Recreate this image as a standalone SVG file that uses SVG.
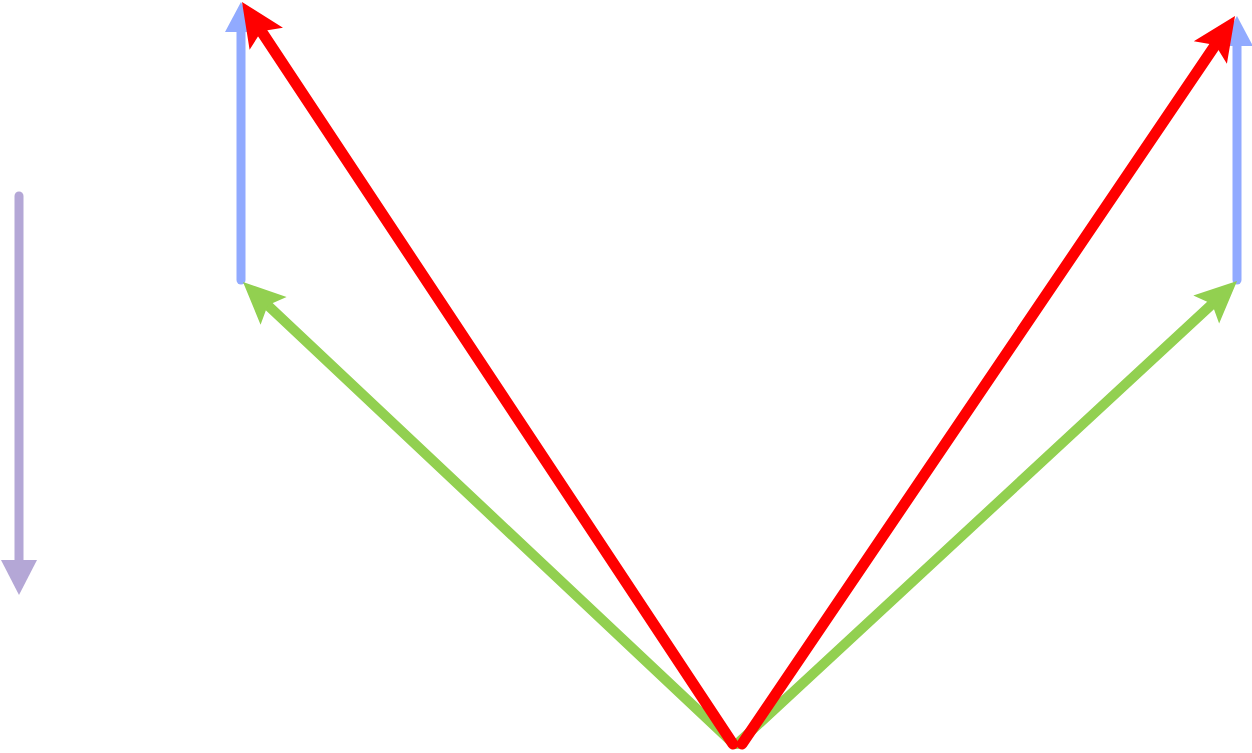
<svg xmlns="http://www.w3.org/2000/svg" width="1252" height="753" viewBox="0 0 1252 753">
<style>
.l{fill:none;stroke-width:10;stroke-linecap:round}
.red{stroke:#ff0000;stroke-width:11}
.grn{stroke:#92d050}
.blu{stroke:#91aaff;stroke-width:9}
.pur{stroke:#b4a7d6;stroke-width:9}
</style>
<defs>
<marker id="hr" markerUnits="userSpaceOnUse" viewBox="-48 -24 52 48" markerWidth="52" markerHeight="48" refX="-25" refY="0" orient="auto"><path d="M0,0 L-44,-20 L-35,0 L-44,20 Z" fill="#ff0000"/></marker>
<marker id="hg" markerUnits="userSpaceOnUse" viewBox="-48 -24 52 48" markerWidth="52" markerHeight="48" refX="-25" refY="0" orient="auto"><path d="M0,0 L-42,-19 L-34,0 L-42,19 Z" fill="#92d050"/></marker>
<marker id="hb" markerUnits="userSpaceOnUse" viewBox="-40 -20 44 40" markerWidth="44" markerHeight="40" refX="-25" refY="0" orient="auto"><path d="M0,0 L-30,-16 L-30,16 Z" fill="#91aaff"/></marker>
<marker id="hp" markerUnits="userSpaceOnUse" viewBox="-40 -20 44 40" markerWidth="44" markerHeight="40" refX="-25" refY="0" orient="auto"><path d="M0,0 L-35,-18 L-35,18 Z" fill="#b4a7d6"/></marker>
</defs>
<g id="connectors">
<line class="l pur" x1="19" y1="196" x2="19" y2="570" marker-end="url(#hp)"/>
<line class="l blu" x1="241" y1="280" x2="241" y2="27" marker-end="url(#hb)"/>
<line class="l blu" x1="1237" y1="280" x2="1237" y2="41" marker-end="url(#hb)"/>
<line class="l grn" x1="734" y1="744" x2="261.2" y2="299.2" marker-end="url(#hg)"/>
<line class="l grn" x1="737" y1="744" x2="1218.7" y2="298" marker-end="url(#hg)"/>
<line class="l red" x1="733" y1="744" x2="255.8" y2="22.9" marker-end="url(#hr)"/>
<line class="l red" x1="742" y1="744" x2="1221" y2="36.7" marker-end="url(#hr)"/>
</g>
</svg>
